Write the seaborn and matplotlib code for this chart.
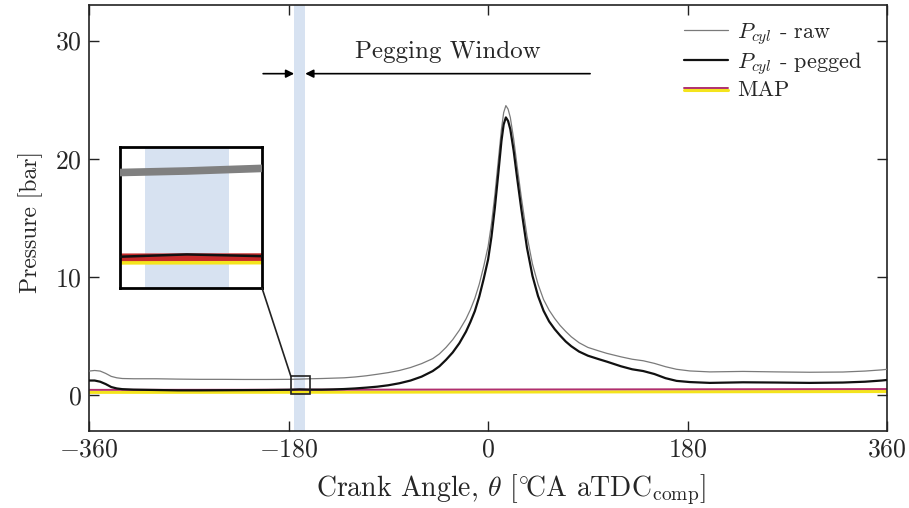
import matplotlib
matplotlib.use("Agg")
import matplotlib.pyplot as plt
import matplotlib.patheffects as pe
from matplotlib.patches import Rectangle, ConnectionPatch
import pandas as pd
import seaborn as sns

# Crank angle grid [deg CA aTDC] and cylinder pressure traces [bar]
crank_angle = [-360, -355, -350, -345, -340, -335, -330, -320, -300, -280, -260, -240,
               -220, -200, -180, -170, -160, -150, -140, -130, -120, -110, -100, -90,
               -80, -70, -60, -50, -44, -38, -32, -26, -20, -16, -12, -8, -4, 0, 3, 6,
               9, 12, 14, 16, 18, 20, 23, 26, 30, 35, 40, 45, 50, 55, 60, 65, 70, 75,
               82, 90, 100, 107, 120, 130, 140, 150, 160, 170, 182, 200, 230, 260, 290,
               320, 340, 355, 360]
p_raw = [2.05, 2.10, 2.05, 1.85, 1.60, 1.48, 1.42, 1.40, 1.40, 1.37, 1.35, 1.35,
         1.34, 1.34, 1.35, 1.37, 1.40, 1.42, 1.45, 1.48, 1.55, 1.65, 1.78, 1.92,
         2.10, 2.35, 2.68, 3.10, 3.50, 4.05, 4.70, 5.50, 6.45, 7.25, 8.20, 9.40, 10.9, 12.6, 14.5, 16.9,
         19.7, 22.5, 23.9, 24.5, 24.2, 23.5, 21.7, 19.5, 16.7, 13.5, 11.1, 9.4, 8.1, 7.2, 6.5, 5.9, 5.4, 4.95,
         4.45, 4.05, 3.75, 3.55, 3.25, 3.05, 2.92, 2.70, 2.42, 2.20, 2.06, 1.98, 2.02, 1.98, 1.95,
         1.97, 2.05, 2.15, 2.20]
p_pegged = [1.25, 1.25, 1.15, 0.95, 0.70, 0.58, 0.52, 0.48, 0.45, 0.42, 0.42, 0.43,
            0.44, 0.45, 0.47, 0.50, 0.48, 0.48, 0.50, 0.53, 0.58, 0.65, 0.73, 0.85,
            1.02, 1.25, 1.58, 2.05, 2.45, 3.00, 3.62, 4.40, 5.38, 6.20, 7.12, 8.35, 9.85, 11.5, 13.4, 15.8,
            18.6, 21.5, 22.9, 23.5, 23.2, 22.5, 20.7, 18.5, 15.7, 12.5, 10.1, 8.4, 7.15, 6.25, 5.6, 5.05, 4.55, 4.15,
            3.7, 3.35, 3.05, 2.85, 2.45, 2.20, 2.05, 1.80, 1.45, 1.22, 1.12, 1.05, 1.10, 1.08, 1.05,
            1.08, 1.15, 1.25, 1.30]

# Manifold absolute pressure [bar]
map_angle = [-360, -180, 0, 180, 360]
map_pressure = [0.46, 0.47, 0.49, 0.51, 0.53]

# Pegging window limits [deg CA]
window_start, window_end = -175, -165
x_ticks = [-360, -180, 0, 180, 360]
y_ticks = [0, 10, 20, 30]

sns.set_style("ticks")
plt.rcParams.update({
    "font.family": "serif",
    "font.serif": ["cmr10"],
    "mathtext.fontset": "cm",
    "axes.formatter.use_mathtext": True,
    "axes.unicode_minus": True,
})

df = pd.DataFrame({"theta": crank_angle, "raw": p_raw, "pegged": p_pegged})
df_map = pd.DataFrame({"theta": map_angle, "map": map_pressure})

fig = plt.figure(figsize=(9.09, 5.08), dpi=100)
ax = fig.add_axes([0.098, 0.152, 0.878, 0.838])

band_color = "#d3dff0"
ax.axvspan(window_start, window_end, color=band_color, alpha=0.9, lw=0, zorder=1)

map_fx = [pe.Stroke(linewidth=2.2, foreground="#f4e41c", offset=(0, -1.8)), pe.Normal()]
sns.lineplot(data=df, x="theta", y="raw", ax=ax, color="#7a7a7a", lw=0.9,
             label="$P_{cyl}$ - raw", zorder=3)
sns.lineplot(data=df, x="theta", y="pegged", ax=ax, color="#111111", lw=1.6,
             label="$P_{cyl}$ - pegged", zorder=4)
map_line = sns.lineplot(data=df_map, x="theta", y="map", ax=ax, color="#b0306e", lw=1.4,
                        label="MAP", zorder=2).lines[-1]
map_line.set_path_effects(map_fx)

ax.set_xlim(-360, 360)
ax.set_ylim(-3, 33)
ax.set_xticks(x_ticks)
ax.set_yticks(y_ticks)
ax.tick_params(direction="in", length=7, width=1.0, top=True, right=True,
               labelsize=18.5, pad=5, color="#222222")
for s in ax.spines.values():
    s.set_color("#222222")
    s.set_linewidth(1.2)
ax.set_xlabel(r"Crank Angle, $\theta$ [$^{\circ}\!$CA aTDC$_{\mathrm{comp}}$]", fontsize=20)
ax.set_ylabel("Pressure [bar]", fontsize=17)
ax.xaxis.set_label_coords(0.529, -0.097)
ax.yaxis.set_label_coords(-0.058, 0.49)

ax.legend(loc="upper right", bbox_to_anchor=(0.985, 0.995), frameon=False, fontsize=16,
          handlelength=2.0, handletextpad=0.4, labelspacing=0.15, borderaxespad=0.2)

# Pegging window arrows and caption
arrow_y = 27.2
ax.annotate("", xy=(window_start, arrow_y), xytext=(-203, arrow_y),
            arrowprops=dict(arrowstyle="-|>", color="black", lw=1.2, mutation_scale=12,
                            shrinkA=0, shrinkB=0))
ax.annotate("", xy=(window_end, arrow_y), xytext=(92, arrow_y),
            arrowprops=dict(arrowstyle="-|>", color="black", lw=1.2, mutation_scale=12,
                            shrinkA=0, shrinkB=0))
ax.text(-36, 29.0, "Pegging Window", ha="center", va="center", fontsize=18)

# Zoom box around the pegging window
zx0, zx1, zy0, zy1 = -178, -161, 0.15, 1.62
ax.add_patch(Rectangle((zx0, zy0), zx1 - zx0, zy1 - zy0, fill=False, ec="#222222",
                       lw=1.2, zorder=6))

axin = fig.add_axes([120 / 909, (508 - 288) / 508, 142 / 909, 141 / 508])
axin.axvspan(window_start, window_end, color=band_color, alpha=0.9, lw=0, zorder=1)
sns.lineplot(data=df, x="theta", y="raw", ax=axin, color="#808080", lw=5.5, zorder=3)
inset_map = sns.lineplot(data=df_map, x="theta", y="map", ax=axin, color="#c62a2a",
                         lw=5.5, zorder=2).lines[-1]
inset_map.set_path_effects([pe.Stroke(linewidth=3, foreground="#f4e41c", offset=(0, -3.8)),
                            pe.Normal()])
sns.lineplot(data=df, x="theta", y="pegged", ax=axin, color="#111111", lw=1.8, zorder=4)
axin.set_xlim(zx0, zx1)
axin.set_ylim(zy0, zy1)
axin.set_xticks([])
axin.set_yticks([])
axin.set_xlabel("")
axin.set_ylabel("")
for s in axin.spines.values():
    s.set_color("black")
    s.set_linewidth(2.0)

con = ConnectionPatch(xyA=(1, 0), coordsA=axin.transAxes, xyB=(zx0, zy1), coordsB=ax.transData,
                      color="#222222", lw=1.2)
fig.add_artist(con)

fig.savefig("out.png", dpi=100)
